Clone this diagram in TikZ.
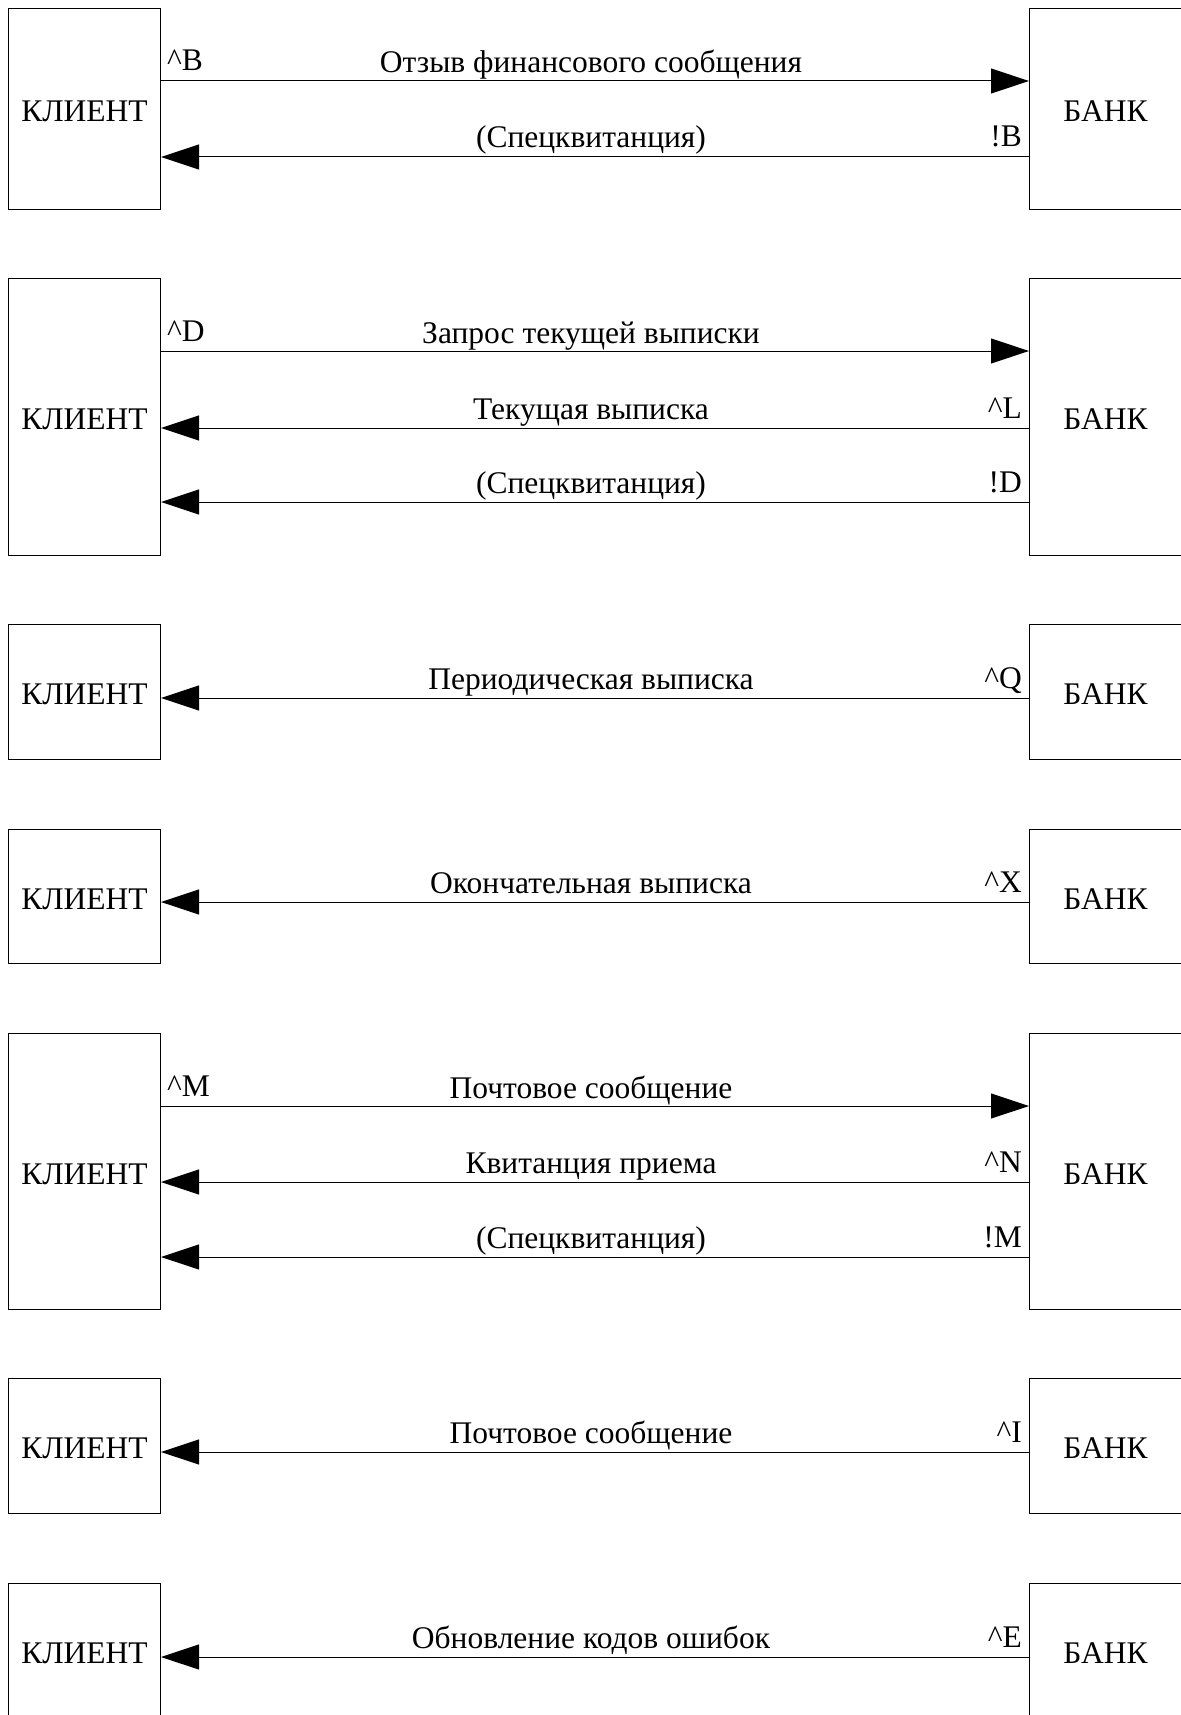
\documentclass[tikz,border=0pt]{standalone}
\usepackage{fontspec}
\setmainfont{Liberation Serif}
\usetikzlibrary{arrows.meta}
\tikzset{
  txt/.style={font=\fontsize{31.5}{38}\selectfont},
  party/.style={txt, draw, line width=1pt, minimum width=152pt, inner sep=0pt, text height=25pt, text depth=0pt, anchor=north west},
  msg/.style={line width=1pt, -{Triangle[length=38pt,width=25pt]}},
  mid/.style={txt, anchor=base, inner sep=0pt},
  lcode/.style={txt, anchor=base west, inner sep=0pt},
  rcode/.style={txt, anchor=base east, inner sep=0pt}
}
\newcommand\cx{\textasciicircum}
\begin{document}
\begin{tikzpicture}[x=1pt, y=-1pt]
\useasboundingbox[fill=white] (0,0) rectangle (1180,1715);
% group 1
\node[party, minimum height=201pt] (k1) at (8,8) {КЛИЕНТ};
\node[party, minimum height=201pt] (b1) at (1029,8) {БАНК};
\draw[msg] (k1.east |- 0,81) -- (b1.west |- 0,81);
\draw[msg] (b1.west |- 0,157) -- (k1.east |- 0,157);
\node[mid] (t11) at (591,73) {Отзыв финансового сообщения};
\node[lcode] (c11) at (167,71) {\cx B};
\node[mid] (t12) at (591,148) {(Спецквитанция)};
\node[rcode] (c12) at (1022,147) {!B};
% group 2
\node[party, minimum height=277pt] (k2) at (8,278) {КЛИЕНТ};
\node[party, minimum height=277pt] (b2) at (1029,278) {БАНК};
\draw[msg] (k2.east |- 0,351) -- (b2.west |- 0,351);
\draw[msg] (b2.west |- 0,428) -- (k2.east |- 0,428);
\draw[msg] (b2.west |- 0,502) -- (k2.east |- 0,502);
\node[mid] (t21) at (591,343) {Запрос текущей выписки};
\node[lcode] (c21) at (167,341) {\cx D};
\node[mid] (t22) at (591,419) {Текущая выписка};
\node[rcode] (c22) at (1022,418) {\cx L};
\node[mid] (t23) at (591,493) {(Спецквитанция)};
\node[rcode] (c23) at (1022,492) {!D};
% group 3
\node[party, minimum height=135pt] (k3) at (8,624) {КЛИЕНТ};
\node[party, minimum height=135pt] (b3) at (1029,624) {БАНК};
\draw[msg] (b3.west |- 0,698) -- (k3.east |- 0,698);
\node[mid] (t31) at (591,689) {Периодическая выписка};
\node[rcode] (c31) at (1022,688) {\cx Q};
% group 4
\node[party, minimum height=134pt] (k4) at (8,829) {КЛИЕНТ};
\node[party, minimum height=134pt] (b4) at (1029,829) {БАНК};
\draw[msg] (b4.west |- 0,902) -- (k4.east |- 0,902);
\node[mid] (t41) at (591,893) {Окончательная выписка};
\node[rcode] (c41) at (1022,892) {\cx X};
% group 5
\node[party, minimum height=276pt] (k5) at (8,1033) {КЛИЕНТ};
\node[party, minimum height=276pt] (b5) at (1029,1033) {БАНК};
\draw[msg] (k5.east |- 0,1106) -- (b5.west |- 0,1106);
\draw[msg] (b5.west |- 0,1182) -- (k5.east |- 0,1182);
\draw[msg] (b5.west |- 0,1257) -- (k5.east |- 0,1257);
\node[mid] (t51) at (591,1098) {Почтовое сообщение};
\node[lcode] (c51) at (167,1096) {\cx M};
\node[mid] (t52) at (591,1173) {Квитанция приема};
\node[rcode] (c52) at (1022,1172) {\cx N};
\node[mid] (t53) at (591,1248) {(Спецквитанция)};
\node[rcode] (c53) at (1022,1247) {!M};
% group 6
\node[party, minimum height=135pt] (k6) at (8,1378) {КЛИЕНТ};
\node[party, minimum height=135pt] (b6) at (1029,1378) {БАНК};
\draw[msg] (b6.west |- 0,1452) -- (k6.east |- 0,1452);
\node[mid] (t61) at (591,1443) {Почтовое сообщение};
\node[rcode] (c61) at (1022,1442) {\cx I};
% group 7
\node[party, minimum height=135pt] (k7) at (8,1583) {КЛИЕНТ};
\node[party, minimum height=135pt] (b7) at (1029,1583) {БАНК};
\draw[msg] (b7.west |- 0,1657) -- (k7.east |- 0,1657);
\node[mid] (t71) at (591,1648) {Обновление кодов ошибок};
\node[rcode] (c71) at (1022,1647) {\cx E};
\end{tikzpicture}
\end{document}
